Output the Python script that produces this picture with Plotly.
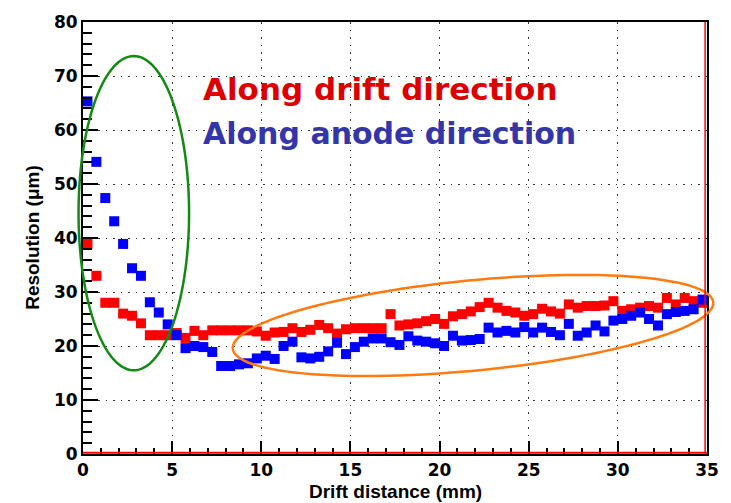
import numpy as np
import plotly.graph_objects as go

# Drift-distance bins (0.5 mm wide), bin centres in mm
drift_mm = [0.25 + 0.5 * i for i in range(70)]

# Resolution along the drift direction (um)
res_drift = [
    38.9, 33.0, 28.0, 28.0, 26.0, 25.6, 24.2, 22.0, 22.0, 22.0,
    22.4, 21.5, 22.8, 22.0, 22.9, 22.9, 22.9, 22.9, 22.9, 22.7,
    21.9, 22.5, 22.6, 23.3, 22.6, 23.0, 23.9, 23.3, 22.3, 23.1,
    23.3, 23.3, 23.3, 23.3, 25.9, 23.8, 24.0, 24.2, 24.6, 25.0,
    24.1, 25.5, 25.9, 26.4, 27.2, 28.0, 27.1, 26.5, 26.2, 25.6,
    25.9, 26.9, 26.4, 26.0, 27.7, 27.1, 27.4, 27.4, 27.5, 28.3,
    26.5, 26.8, 27.1, 27.4, 27.1, 28.9, 27.7, 28.9, 28.3, 28.0,
]

# Resolution along the anode direction (um)
res_anode = [
    65.3, 54.1, 47.4, 43.1, 38.9, 34.4, 33.0, 28.1, 26.2, 24.0,
    22.0, 19.6, 20.0, 19.8, 18.9, 16.3, 16.3, 16.6, 16.8, 17.7,
    18.2, 17.6, 20.0, 20.8, 17.9, 17.7, 18.0, 19.0, 20.6, 18.5,
    19.8, 20.8, 21.4, 21.4, 20.7, 20.2, 21.8, 21.0, 20.8, 20.5,
    20.0, 21.9, 21.0, 21.1, 21.3, 23.4, 22.5, 22.8, 22.5, 23.5,
    22.5, 23.4, 22.6, 22.0, 24.1, 21.9, 22.5, 23.8, 22.7, 24.7,
    25.0, 25.6, 26.2, 25.0, 23.8, 25.9, 26.3, 26.5, 26.8, 28.6,
]

x_range = [0, 35]
y_range = [0, 80]
x_ticks = [0, 5, 10, 15, 20, 25, 30, 35]
y_ticks = [0, 10, 20, 30, 40, 50, 60, 70, 80]

W, H = 731, 503
M = dict(l=83, r=14, t=14, b=49)
PW = W - M["l"] - M["r"]
PH = H - M["t"] - M["b"]

RED = "#ff0000"
BLUE = "#0000ff"

fig = go.Figure()

fig.add_trace(go.Scatter(
    x=drift_mm, y=res_drift, mode="markers", name="Along drift direction",
    marker=dict(symbol="square", size=10, color=RED, line=dict(width=0)),
))
fig.add_trace(go.Scatter(
    x=drift_mm, y=res_anode, mode="markers", name="Along anode direction",
    marker=dict(symbol="square", size=10, color=BLUE, line=dict(width=0)),
))


def to_dom(xd, yd):
    """Data coordinates -> axis-domain fractions."""
    fx = (xd - x_range[0]) / (x_range[1] - x_range[0])
    fy = (yd - y_range[0]) / (y_range[1] - y_range[0])
    return fx, fy


def ellipse_path(cx, cy, ux, uy, vx, vy, n=120):
    """Closed SVG path of an ellipse given in pixel-space vectors, returned in domain fractions."""
    t = np.linspace(0, 2 * np.pi, n)
    px = cx + ux * np.cos(t) + vx * np.sin(t)
    py = cy + uy * np.cos(t) + vy * np.sin(t)
    fx = px / PW
    fy = py / PH
    pts = [f"{a:.5f},{b:.5f}" for a, b in zip(fx, fy)]
    return "M " + " L ".join(pts) + " Z"


# Green ellipse around the steep low-drift region (data units)
g_cx, g_cy = 2.85, 44.6
g_rx, g_ry = 3.1, 29.1
gfx, gfy = to_dom(g_cx, g_cy)
g_path = ellipse_path(gfx * PW, gfy * PH,
                      g_rx / (x_range[1] - x_range[0]) * PW, 0,
                      0, g_ry / (y_range[1] - y_range[0]) * PH)

# Orange tilted ellipse around the plateau, from its two end points (data units)
o_left = (8.4, 19.5)
o_right = (35.35, 28.1)
o_half_minor_px = 46
lx, ly = to_dom(*o_left)
rx, ry = to_dom(*o_right)
lx, ly, rx, ry = lx * PW, ly * PH, rx * PW, ry * PH
ocx, ocy = (lx + rx) / 2, (ly + ry) / 2
ux, uy = (rx - lx) / 2, (ry - ly) / 2
ulen = np.hypot(ux, uy)
vx, vy = -uy / ulen * o_half_minor_px, ux / ulen * o_half_minor_px
o_path = ellipse_path(ocx, ocy, ux, uy, vx, vy)

shapes = [
    dict(type="path", path=g_path, xref="x domain", yref="y domain",
         line=dict(color="#138a13", width=2.5), layer="above"),
    dict(type="path", path=o_path, xref="x domain", yref="y domain",
         line=dict(color="#ff7a10", width=2.5), layer="above"),
    # red histogram frame lines along the bottom and right edges
    dict(type="line", xref="x domain", yref="y domain", x0=0, x1=1, y0=0.003, y1=0.003,
         line=dict(color=RED, width=2), layer="above"),
    dict(type="line", xref="x domain", yref="y domain", x0=0.997, x1=0.997, y0=0, y1=1,
         line=dict(color=RED, width=1.5), layer="above"),
]

tick_font = dict(family="DejaVu Sans, Verdana, sans-serif", size=17, color="black", weight="bold")
title_font = dict(family="Liberation Sans, Arial, sans-serif", size=19, color="black", weight="bold")
grid_style = dict(showgrid=True, gridcolor="#333333", gridwidth=1.3, griddash="1.5px,6px")

fig.update_xaxes(
    range=x_range, tickvals=x_ticks, ticktext=[str(v) for v in x_ticks],
    ticks="inside", ticklen=13, tickwidth=2, tickcolor="black",
    minor=dict(ticks="inside", ticklen=6, tickwidth=1.5, tickcolor="black", dtick=1, showgrid=False),
    showline=True, linecolor="black", linewidth=2, mirror=True,
    zeroline=False, tickfont=tick_font, **grid_style,
)
fig.update_yaxes(
    range=y_range, tickvals=y_ticks, ticktext=[str(v) for v in y_ticks],
    ticks="inside", ticklen=15, tickwidth=2, tickcolor="black",
    minor=dict(ticks="inside", ticklen=9, tickwidth=1.5, tickcolor="black", dtick=2, showgrid=False),
    showline=True, linecolor="black", linewidth=2, mirror=True,
    zeroline=False, tickfont=tick_font, **grid_style,
)

label_font = "DejaVu Sans, Verdana, sans-serif"
annotations = [
    dict(x=6.6, y=67.6, xref="x", yref="y", xanchor="left", yanchor="middle",
         text="Along drift direction", showarrow=False,
         font=dict(family=label_font, size=31, color="#dd0000", weight="bold")),
    dict(x=6.6, y=59.4, xref="x", yref="y", xanchor="left", yanchor="middle",
         text="Along anode direction", showarrow=False,
         font=dict(family=label_font, size=30, color="#3535aa", weight="bold")),
    dict(x=(401 - M["l"]) / PW, y=(H - M["b"] - 492) / PH, xref="paper", yref="paper",
         xanchor="center", yanchor="middle", text="Drift distance (mm)", showarrow=False,
         font=title_font),
    dict(x=(31 - M["l"]) / PW, y=(H - M["b"] - 233) / PH, xref="paper", yref="paper",
         xanchor="center", yanchor="middle", text="Resolution (μm)", showarrow=False, textangle=-90,
         font=title_font),
]

fig.update_layout(
    width=W, height=H, margin=M,
    paper_bgcolor="white", plot_bgcolor="white",
    showlegend=False, shapes=shapes, annotations=annotations,
)

fig.write_html("out.html")
